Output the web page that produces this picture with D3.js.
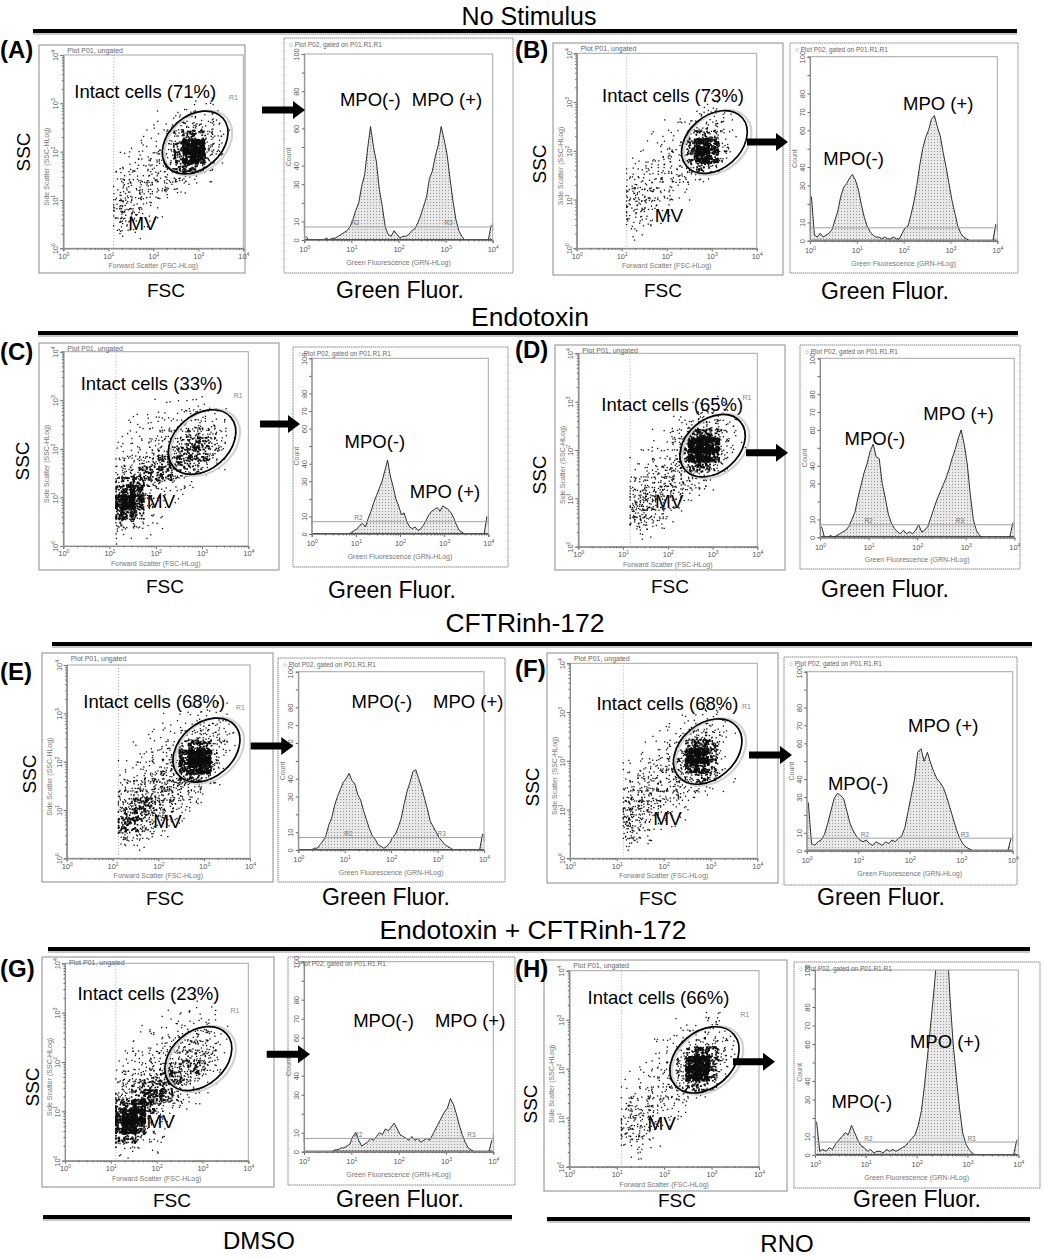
<!DOCTYPE html>
<html>
<head>
<meta charset="utf-8">
<title>MPO flow cytometry panels</title>
<script src="https://cdn.jsdelivr.net/npm/d3@7"></script>
<style>
  body { margin: 0; background: #fff; }
  svg { display: block; }
</style>
</head>
<body>
<svg id="fig" width="1045" height="1259"></svg>
<script>
// ---------- values ----------
const panelIds = ["A", "B", "C", "D", "E", "F", "G", "H"];
const intactPct = [71, 73, 33, 65, 68, 68, 23, 66];
const sectionTitles = ["No Stimulus", "Endotoxin", "CFTRinh-172", "Endotoxin + CFTRinh-172"];
const vehicleTitles = ["DMSO", "RNO"];
const decadeTicks = [1, 10, 100, 1000, 10000];
const countTicks = [0, 10, 20, 30, 40, 50, 60, 70, 80, 90, 100];
const countTickLabels = [0, 10, 30, 40, 60, 70, 80, 100];
const markerCount = 7;   // R2/R3 marker level on the histograms

// FSC threshold (log10) shown as the dotted vertical line
const fscThreshold = [1.12, 1.11, 1.14, 1.16, 1.13, 1.14, 1.11, 1.10];
// R1 gate centres, log10 FSC / log10 SSC
const gateCenter = [[2.93, 2.19], [3.06, 2.18], [3.0, 2.14], [3.0, 2.09],
                    [3.05, 2.24], [2.94, 2.19], [2.91, 2.07], [2.85, 2.18]];

// dot density per 0.2-decade cell (0-9). columns: FSC 1.1 .. 4.1, rows: SSC 4.0 (top) .. 0.0
const densityA = ["000000000000000","000000000000000","000000000000000","000000000000000",
  "000000000110000","000000011111000","000001122221000","000011234432100","000112357642100",
  "001112369952100","011223479952000","112233467531000","123333443210000","233333221000000",
  "343322110000000","443211000000000","443211000000000","332110000000000","111000000000000","000000000000000"];
const densityB = ["000000000000000","000000000000000","000000000000000","000000000000000",
  "000000001100000","000000011110000","000001112221000","000011123331000","000111246531000",
  "001112379842000","011122379841000","112223356420000","222333332100000","333322110000000",
  "343321100000000","443210000000000","332110000000000","221100000000000","110000000000000","000000000000000"];
const densityC = ["000000000000000","000000000000000","000000000000000","000000000000000",
  "000000100100000","000011011110000","001111122221000","011112233332000","011223345442100",
  "112233456653100","122344566642000","233456665421000","345666543200000","566543321000000",
  "788532110000000","898421100000000","786210000000000","543211000000000","221100000000000","100000000000000"];
const densityD = ["000000000000000","000000000000000","000000000000000","000000000000000",
  "000000000110000","000000011110000","000001112321000","000011134442100","000112478631000",
  "001112599942100","011123699841000","112234577530000","122344453200000","233444332100000",
  "345543211000000","455432100000000","454321000000000","343210000000000","121100000000000","000000000000000"];
const densityE = ["000000000000000","000000000000000","000000000000000","000000000000000",
  "000000001111000","000001111221000","000011122332100","000111234443100","001122368742100",
  "011223489952000","112234489951000","123344567530000","234455554310000","345555432100000",
  "456654321000000","566543210000000","665432100000000","443211000000000","221100000000000","000000000000000"];
const densityF = ["000000000000000","000000000000000","000000000000000","000000000000000",
  "000000001110000","000000111210000","000011122321000","000111245420000","001112378630000",
  "011123599720000","112234588620000","123334456531000","233444443210000","344443321000000",
  "455432210000000","554321100000000","543211000000000","432100000000000","221000000000000","000000000000000"];
const densityG = ["000000000000000","000000000000000","000000000000000","000000000000000",
  "000000001110000","000001111110000","000111122221000","001111233331000","011122344431000",
  "112233455541000","122344556531000","233456654310000","345666543100000","456776421000000",
  "678753211000000","899431000000000","898310000000000","675321000000000","332110000000000","110000000000000"];
const densityH = ["000000000000000","000000000000000","000000000000000","000000000000000",
  "000000001110000","000000111210000","000011122321000","000111234432000","000112368641000",
  "001123599731000","011223599620000","112233466410000","122333332100000","233332210000000",
  "344321100000000","443321000000000","443210000000000","332100000000000","111000000000000","000000000000000"];

// histogram counts, 64 channels spanning 10^0 .. 10^4 of green fluorescence
const histA = [2,0,0,0,0,0,0,1,0,1, 1,2,3,4,5,7,11,16,20,29, 35,49,61,50,42,27,18,7,3,2,
  5,3,1,2,2,3,5,6,9,13, 18,23,33,37,45,51,61,54,46,33, 21,11,5,2,0,0,0,0,0,0, 0,0,0,8];
const histB = [24,3,2,4,2,3,4,6,11,16, 24,29,31,34,36,33,28,20,13,8, 5,3,2,2,1,2,1,1,2,1,
  1,4,7,8,14,21,30,41,50,56, 60,66,68,62,57,48,40,31,22,15, 8,4,2,1,0,0,0,0,0,0, 0,0,0,9];
const histC = [0,0,0,0,0,0,0,0,0,0, 0,0,0,0,1,2,3,5,6,4, 9,13,18,22,26,30,36,42,33,27,
  20,16,11,12,7,4,3,4,2,3, 5,8,11,13,14,15,13,16,15,14, 12,9,5,2,1,0,0,0,0,0, 0,0,0,10];
const histD = [6,0,0,1,0,1,2,3,4,6, 10,14,22,29,36,41,48,52,45,44, 30,22,13,8,5,3,2,4,2,3,
  2,4,7,3,4,6,11,16,21,25, 29,33,38,44,49,55,60,52,41,24, 10,4,1,0,0,0,0,0,0,0, 0,0,0,8];
const histE = [0,0,0,0,0,1,1,3,5,8, 14,18,25,30,34,38,40,43,39,37, 31,28,22,17,12,8,6,3,2,1,
  2,4,7,9,13,18,26,33,38,44, 45,40,35,29,23,16,13,10,7,5, 3,2,1,0,0,0,0,0,0,0, 0,0,0,9];
const histF = [27,4,3,5,6,9,15,22,29,32, 31,29,22,15,11,8,6,5,6,4, 3,5,4,3,5,4,6,5,7,8,
  13,22,31,40,55,57,50,55,49,44, 40,38,35,30,24,18,12,7,4,2, 1,0,0,0,0,0,0,0,0,0, 0,0,0,7];
const histG = [0,0,0,0,0,0,0,0,0,0, 1,1,2,2,3,4,8,10,6,3, 4,5,7,6,8,10,9,12,11,13,
  15,12,9,8,7,6,8,6,7,5, 6,7,6,9,12,15,18,21,23,28, 25,20,14,9,5,2,1,0,0,0, 0,0,0,6];
const histH = [18,2,3,2,4,3,6,8,10,12, 11,16,12,8,5,4,2,3,1,2, 2,1,3,2,3,2,3,4,5,7,
  9,11,16,24,38,55,72,90,110,125, 130,118,85,60,42,25,12,6,3,1, 0,0,0,0,0,0,0,0,0,0, 0,0,0,8];

const densities = [densityA, densityB, densityC, densityD, densityE, densityF, densityG, densityH];
const histograms = [histA, histB, histC, histD, histE, histF, histG, histH];

// ---------- page layout (pixels) and label anchors (axis units) ----------
const panels = [
  {sBox:[39,45,245,273], sPlot:[63.3,55,243.3,248.3], hBox:[284,38,513,273], hPlot:[304.3,54,492.7,240],
   arrow:[262,110,305], ssc:[23.5,152], fsc:[166,297], green:[400,298], letter:[0,58],
   intact:[1.82,3.11], mv:[1.76,0.38], r1:[3.78,3.07], neg:[1.4,72], pos:[3.03,72], r2:1.08, r3:3.06},
  {sBox:[553,43,783,275], sPlot:[576.7,53.3,756.7,248.3], hBox:[790,43,1018,273], hPlot:[810,56.7,997.3,240.7],
   arrow:[747,142,788], ssc:[539.5,164], fsc:[663,297], green:[885,299], letter:[515,58],
   intact:[2.14,3.0], mv:[2.05,0.54], r1:null, neg:[0.93,41], pos:[2.74,71], r2:null, r3:null},
  {sBox:[39,343,279,570], sPlot:[63.3,351.7,248.3,546], hBox:[293,347,508,567], hPlot:[311.7,358.3,488.3,534],
   arrow:[260,424,300], ssc:[22.5,461], fsc:[165,593], green:[392,598], letter:[0,360],
   intact:[1.91,3.21], mv:[2.11,0.78], r1:[3.78,3.05], neg:[1.43,49], pos:[3.02,20.5], r2:1.06, r3:null},
  {sBox:[555,345,785,570], sPlot:[578.3,353.3,757.3,546.7], hBox:[800,345,1020,569], hPlot:[820,358.3,1014.3,537.3],
   arrow:[746,452.7,788], ssc:[539.5,475], fsc:[670,593], green:[885,597], letter:[515,358],
   intact:[2.1,2.8], mv:[2.03,0.8], r1:[3.77,3.04], neg:[1.13,51.6], pos:[2.85,65.5], r2:1.0, r3:2.88},
  {sBox:[42,653,273,882], sPlot:[66.7,665,250,858.3], hBox:[278,658,505,882], hPlot:[298.3,671.7,484,850],
   arrow:[250.7,746,293.3], ssc:[29.5,774], fsc:[165,905], green:[386,905], letter:[0,680],
   intact:[1.91,3.1], mv:[2.2,0.62], r1:[3.79,3.07], neg:[1.8,79.5], pos:[3.66,79.5], r2:1.08, r3:3.09},
  {sBox:[547,653,778,883], sPlot:[570,663.3,757.3,858.3], hBox:[784,657,1017,885], hPlot:[806.7,671.7,1012.7,850.7],
   arrow:[749,755,792], ssc:[532.5,787], fsc:[658,905], green:[881,905], letter:[515,677],
   intact:[2.08,3.04], mv:[2.08,0.68], r1:[3.77,3.06], neg:[1.0,34], pos:[2.65,66.5], r2:1.13, r3:3.07},
  {sBox:[42,957,274,1187], sPlot:[65,963.3,248.3,1160.7], hBox:[288,957,515,1185], hPlot:[304,961.7,493.3,1151.7],
   arrow:[266.7,1054.3,310], ssc:[32.5,1087], fsc:[172,1207], green:[400,1207], letter:[0,977],
   intact:[1.82,3.26], mv:[2.09,0.66], r1:[3.71,3.0], neg:[1.68,65.8], pos:[3.51,65.8], r2:1.15, r3:3.54},
  {sBox:[544,960,787,1191], sPlot:[569.3,970.7,759,1166.7], hBox:[794,962,1040,1188], hPlot:[815,970,1018.3,1155],
   arrow:[733,1061.7,775], ssc:[530.5,1104], fsc:[677,1207], green:[917,1207], letter:[515,977],
   intact:[1.88,3.33], mv:[1.95,0.75], r1:[3.7,3.06], neg:[0.92,25.2], pos:[2.56,57.7], r2:1.05, r3:3.08}
];
const sections = [[529,25,33,1017,31], [530,326,38,1018,333], [525,632,52,1032,644], [533,939,48,1030,949]];
const vehicles = [[259,1249,43,512,1217], [787,1252,547,1030,1219]];

const FONT = '"Liberation Sans", Arial, Helvetica, sans-serif';
const levelDots = [0, 2, 5, 8, 13, 20, 30, 46, 80, 170];
const gridX0 = 1.1, gridYTop = 4, cellDec = 0.2;
const gateRx = 0.82, gateRy = 0.59, gateTilt = -41;

const svg = d3.select("#fig").attr("font-family", FONT);
const defs = svg.append("defs");
const pat = defs.append("pattern").attr("id", "hatch")
  .attr("width", 3).attr("height", 3).attr("patternUnits", "userSpaceOnUse");
pat.append("rect").attr("width", 3).attr("height", 3).attr("fill", "#e8e8e8");
pat.append("rect").attr("x", 1).attr("y", 1).attr("width", 1).attr("height", 1).attr("fill", "#9a9a9a");

const minorTicks = [];
decadeTicks.slice(0, -1).forEach(d => { for (let m = 2; m < 10; m++) minorTicks.push(d * m); });

// integer hash -> [0,1): spreads the events of one cell inside that cell
function spread(n) {
  n = Math.imul(n ^ (n >>> 16), 0x45d9f3b);
  n = Math.imul(n ^ (n >>> 16), 0x45d9f3b);
  n = n ^ (n >>> 16);
  return (n >>> 0) / 4294967296;
}

function styleAxis(g) {
  g.attr("font-size", 7.5).attr("font-family", FONT);
  g.select(".domain").attr("stroke", "#8a8a8a");
  g.selectAll(".tick line").attr("stroke", "#666");
  g.selectAll(".tick text").attr("fill", "#555");
}
function powerLabels(g) {
  g.selectAll(".tick text").each(function(d) {
    const t = d3.select(this).text("10");
    t.append("tspan").attr("dy", -3).attr("font-size", 5).text(Math.round(Math.log10(d)));
  });
}
function rotateLeft(g) {
  g.selectAll(".tick text").attr("transform", "rotate(-90)")
    .attr("text-anchor", "middle").attr("x", 0).attr("y", -5).attr("dy", 0);
}
function frame(g, b, stroke) {
  g.append("rect").attr("x", b[0]).attr("y", b[1]).attr("width", b[2] - b[0]).attr("height", b[3] - b[1])
    .attr("fill", "none").attr("stroke", stroke).attr("stroke-width", 1);
}
function label(g, x, y, txt, size, opts = {}) {
  return g.append("text").attr("x", x).attr("y", y).attr("text-anchor", opts.anchor || "middle")
    .attr("font-size", size).attr("font-weight", opts.weight || "normal")
    .attr("fill", opts.fill || "#000").text(txt);
}

function drawScatter(p, i) {
  const [px0, py0, px1, py1] = p.sPlot;
  const g = svg.append("g");
  g.append("rect").attr("x", p.sBox[0]).attr("y", p.sBox[1])
    .attr("width", p.sBox[2] - p.sBox[0]).attr("height", p.sBox[3] - p.sBox[1])
    .attr("fill", "#fff").attr("stroke", "#8c8c8c");
  const x = d3.scaleLog().domain([1, 1e4]).range([px0, px1]);
  const y = d3.scaleLog().domain([1, 1e4]).range([py1, py0]);
  const clipId = "sclip" + i;
  defs.append("clipPath").attr("id", clipId).append("rect")
    .attr("x", px0).attr("y", py0).attr("width", px1 - px0).attr("height", py1 - py0);

  const thr = fscThreshold[i];
  g.append("line").attr("x1", x(10 ** thr)).attr("x2", x(10 ** thr)).attr("y1", py0).attr("y2", py1)
    .attr("stroke", "#b0b0b0").attr("stroke-dasharray", "1,2");

  // events, spread through each density cell
  const pts = [];
  densities[i].forEach((row, r) => {
    [...row].forEach((ch, c) => {
      const lvl = +ch, n = levelDots[lvl];
      const lo = Math.max(thr, gridX0 + c * cellDec), hi = gridX0 + (c + 1) * cellDec;
      const bottom = gridYTop - (r + 1) * cellDec;
      for (let k = 0; k < n; k++) {
        const seed = ((i * 20 + r) * 15 + c) * 256 + k;
        const u = spread(seed * 2 + 1), v = spread(seed * 2 + 2);
        pts.push([Math.max(thr, lo + (u * 1.5 - 0.25) * (hi - lo)), bottom + (v * 1.5 - 0.25) * cellDec, lvl]);
      }
    });
  });
  g.append("g").attr("clip-path", `url(#${clipId})`)
    .selectAll("rect").data(pts).join("rect")
    .attr("x", d => x(10 ** d[0]) - 0.7).attr("y", d => y(10 ** d[1]) - 0.7)
    .attr("width", d => d[2] >= 6 ? 1.7 : 1.3).attr("height", d => d[2] >= 6 ? 1.7 : 1.3)
    .attr("fill", "#0d0d0d");

  frame(g, p.sPlot, "#a5a5a5");

  const gx = g.append("g").attr("transform", `translate(0,${py1})`)
    .call(d3.axisBottom(x).tickValues(decadeTicks).tickSize(3).tickPadding(2));
  powerLabels(gx); styleAxis(gx);
  g.append("g").attr("transform", `translate(0,${py1})`)
    .call(d3.axisBottom(x).tickValues(minorTicks).tickSize(1.5).tickFormat("")).call(styleAxis);
  const gy = g.append("g").attr("transform", `translate(${px0},0)`)
    .call(d3.axisLeft(y).tickValues(decadeTicks).tickSize(3));
  powerLabels(gy); rotateLeft(gy); styleAxis(gy);
  g.append("g").attr("transform", `translate(${px0},0)`)
    .call(d3.axisLeft(y).tickValues(minorTicks).tickSize(1.5).tickFormat("")).call(styleAxis);

  label(g, px0 + 4, p.sBox[1] + 8, "Plot P01, ungated", 7, {anchor: "start", fill: "#666"});
  label(g, (px0 + px1) / 2, py1 + 20, "Forward Scatter (FSC-HLog)", 7, {fill: "#777"});
  label(g, 0, 0, "Side Scatter (SSC-HLog)", 7, {fill: "#777"})
    .attr("transform", `translate(${p.sBox[0] + 10},${(py0 + py1) / 2 + 15}) rotate(-90)`);

  // R1 gate
  const dec = (px1 - px0) / 4;
  const gate = g.append("g").attr("transform",
    `translate(${x(10 ** gateCenter[i][0])},${y(10 ** gateCenter[i][1])}) rotate(${gateTilt})`);
  gate.append("ellipse").attr("cx", 2).attr("cy", 2.5).attr("rx", gateRx * dec + 1).attr("ry", gateRy * dec + 1)
    .attr("fill", "none").attr("stroke", "#d2d2d2").attr("stroke-width", 2.2);
  gate.append("ellipse").attr("rx", gateRx * dec).attr("ry", gateRy * dec)
    .attr("fill", "none").attr("stroke", "#000").attr("stroke-width", 1.7);
  if (p.r1) label(g, x(10 ** p.r1[0]), y(10 ** p.r1[1]), "R1", 7, {fill: "#888"});

  label(g, x(10 ** p.intact[0]), y(10 ** p.intact[1]), `Intact cells (${intactPct[i]}%)`, 18.5);
  label(g, x(10 ** p.mv[0]), y(10 ** p.mv[1]), "MV", 19);
}

function drawHist(p, i) {
  const [px0, py0, px1, py1] = p.hPlot;
  const g = svg.append("g");
  g.append("rect").attr("x", p.hBox[0]).attr("y", p.hBox[1])
    .attr("width", p.hBox[2] - p.hBox[0]).attr("height", p.hBox[3] - p.hBox[1])
    .attr("fill", "#fff").attr("stroke", "#8c8c8c").attr("stroke-dasharray", "1.5,0.5");
  const x = d3.scaleLog().domain([1, 1e4]).range([px0, px1]);
  const y = d3.scaleLinear().domain([0, 100]).range([py1, py0]);
  const clipId = "hclip" + i;
  defs.append("clipPath").attr("id", clipId).append("rect")
    .attr("x", px0).attr("y", py0).attr("width", px1 - px0).attr("height", py1 - py0);

  const counts = histograms[i];
  const w = 4 / counts.length;
  const cx = (d, k) => x(10 ** ((k + 0.5) * w));
  const gc = g.append("g").attr("clip-path", `url(#${clipId})`);
  gc.append("path").datum(counts)
    .attr("d", d3.area().x(cx).y0(y(0)).y1(d => y(d)))
    .attr("fill", "url(#hatch)");
  gc.append("path").datum(counts)
    .attr("d", d3.line().x(cx).y(d => y(d)))
    .attr("fill", "none").attr("stroke", "#1a1a1a").attr("stroke-width", 0.9);

  // R2 / R3 marker
  g.append("line").attr("x1", px0).attr("x2", px1).attr("y1", y(markerCount)).attr("y2", y(markerCount))
    .attr("stroke", "#a0a0a0").attr("stroke-width", 1);
  [px0, px1].forEach(xx => g.append("line").attr("x1", xx).attr("x2", xx)
    .attr("y1", y(markerCount) - 4).attr("y2", y(markerCount) + 4).attr("stroke", "#888"));
  if (p.r2) label(g, x(10 ** p.r2), y(markerCount) - 1.5, "R2", 6.5, {fill: "#777"});
  if (p.r3) label(g, x(10 ** p.r3), y(markerCount) - 1.5, "R3", 6.5, {fill: "#777"});

  g.append("line").attr("x1", px0).attr("x2", px1).attr("y1", y(0)).attr("y2", y(0))
    .attr("stroke", "#000").attr("stroke-width", 2);
  frame(g, p.hPlot, "#a5a5a5");

  const gx = g.append("g").attr("transform", `translate(0,${py1})`)
    .call(d3.axisBottom(x).tickValues(decadeTicks).tickSize(3).tickPadding(4));
  powerLabels(gx); styleAxis(gx);
  g.append("g").attr("transform", `translate(0,${py1})`)
    .call(d3.axisBottom(x).tickValues(minorTicks).tickSize(1.5).tickFormat("")).call(styleAxis);
  const gy = g.append("g").attr("transform", `translate(${px0},0)`)
    .call(d3.axisLeft(y).tickValues(countTicks).tickSize(2.5)
      .tickFormat(d => countTickLabels.includes(d) ? d : ""));
  rotateLeft(gy); styleAxis(gy);

  label(g, p.hBox[0] + 5, p.hBox[1] + 9, "\u25CB Plot P02, gated on P01.R1.R1", 6.5, {anchor: "start", fill: "#666"});
  label(g, (px0 + px1) / 2, py1 + 25, "Green Fluorescence (GRN-HLog)", 7, {fill: "#777"});
  label(g, 0, 0, "Count", 7, {fill: "#777"})
    .attr("transform", `translate(${px0 - 13},${(py0 + py1) / 2 + 10}) rotate(-90)`);

  label(g, x(10 ** p.neg[0]), y(p.neg[1]), "MPO(-)", 18.5);
  label(g, x(10 ** p.pos[0]), y(p.pos[1]), "MPO (+)", 18.5);
}

function drawArrow(a) {
  const [x0, yy, x1] = a;
  svg.append("path")
    .attr("d", `M${x0},${yy - 3.5}H${x1 - 12}V${yy - 9}L${x1},${yy}L${x1 - 12},${yy + 9}V${yy + 3.5}H${x0}Z`)
    .attr("fill", "#000");
}

function rule(x0, x1, yy) {
  svg.append("line").attr("x1", x0).attr("x2", x1).attr("y1", yy + 3).attr("y2", yy + 3)
    .attr("stroke", "#c8c8c8").attr("stroke-width", 2);
  svg.append("line").attr("x1", x0).attr("x2", x1).attr("y1", yy).attr("y2", yy)
    .attr("stroke", "#000").attr("stroke-width", 4);
}

sectionTitles.forEach((t, k) => {
  const s = sections[k];
  label(svg, s[0], s[1], t, k === 0 ? 25 : 26.5);
  rule(s[2], s[3], s[4]);
});
vehicleTitles.forEach((t, k) => {
  const v = vehicles[k];
  rule(v[2], v[3], v[4]);
  label(svg, v[0], v[1], t, 24);
});

panels.forEach((p, i) => {
  drawScatter(p, i);
  drawHist(p, i);
  drawArrow(p.arrow);
  label(svg, p.letter[0], p.letter[1], `(${panelIds[i]})`, 24, {anchor: "start", weight: "bold"});
  label(svg, 0, 0, "SSC", 19).attr("dominant-baseline", "central")
    .attr("transform", `translate(${p.ssc[0]},${p.ssc[1]}) rotate(-90)`);
  label(svg, p.fsc[0], p.fsc[1], "FSC", 19);
  label(svg, p.green[0], p.green[1], "Green Fluor.", 23);
});
</script>
</body>
</html>
